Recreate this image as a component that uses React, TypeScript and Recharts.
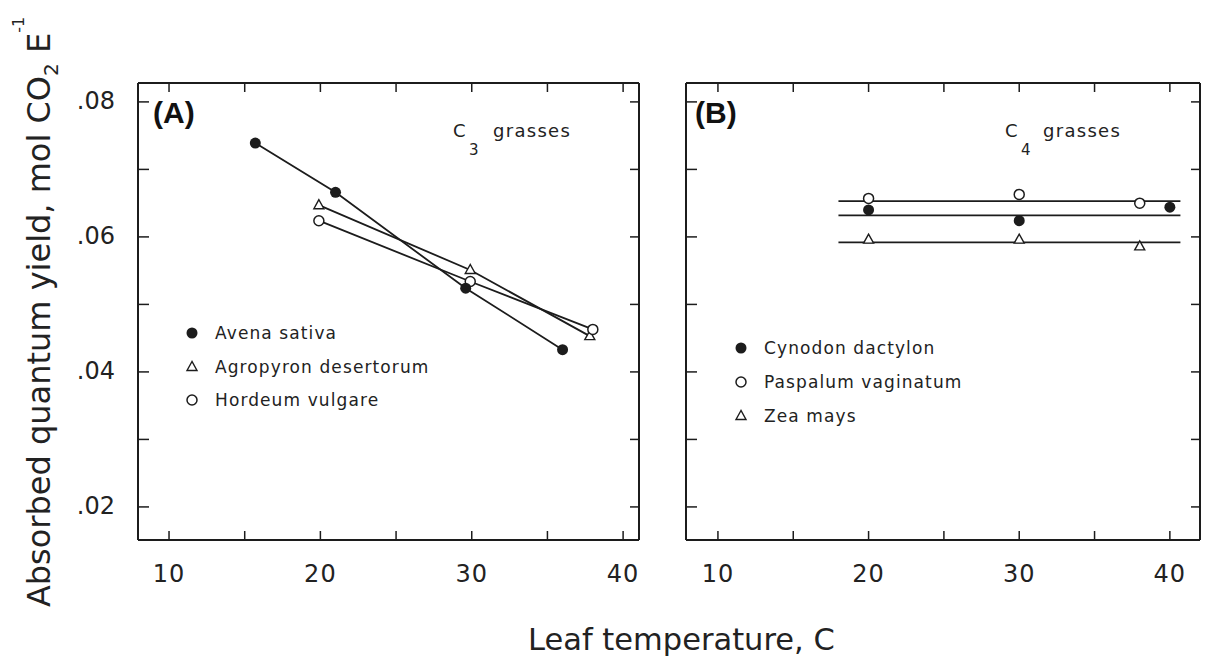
import React from 'react';
import { ComposedChart, Scatter, XAxis, YAxis, Legend } from 'recharts';

// Panel A – C3 grasses (leaf temperature, C  vs  absorbed quantum yield)
const avenaT = [15.7, 21.0, 29.6, 36.0];
const avenaY = [0.0739, 0.0666, 0.0524, 0.0433];
const agropyronT = [19.9, 29.9, 37.8];
const agropyronY = [0.0647, 0.0551, 0.0453];
const hordeumT = [19.9, 29.9, 38.0];
const hordeumY = [0.0624, 0.0534, 0.0463];

// Panel B – C4 grasses, measured points
const cynodonT = [20, 30, 40];
const cynodonY = [0.064, 0.0624, 0.0644];
const paspalumT = [20, 30, 38];
const paspalumY = [0.0657, 0.0663, 0.065];
const zeaT = [20, 30, 38];
const zeaY = [0.0596, 0.0596, 0.0586];

// Panel B – fitted (flat) lines
const fitT = [18, 40.7];
const cynodonFit = [0.0632, 0.0632];
const paspalumFit = [0.0653, 0.0653];
const zeaFit = [0.0592, 0.0592];

const xTicks = [10, 15, 20, 25, 30, 35, 40];
const yTicks = [0.02, 0.03, 0.04, 0.05, 0.06, 0.07, 0.08];

const legendA = [
  { name: 'Avena sativa', kind: 'filled' },
  { name: 'Agropyron desertorum', kind: 'triangle' },
  { name: 'Hordeum vulgare', kind: 'open' },
];
const legendB = [
  { name: 'Cynodon dactylon', kind: 'filled' },
  { name: 'Paspalum vaginatum', kind: 'open' },
  { name: 'Zea mays', kind: 'triangle' },
];

const ink = '#1c1c1c';
const sans = "'DejaVu Sans', sans-serif";

const toPoints = (xs: number[], ys: number[]) => xs.map((x, i) => ({ x, y: ys[i] }));

const Marker = ({ kind, cx, cy }: { kind: string; cx: number; cy: number }) => {
  if (kind === 'filled') return <circle cx={cx} cy={cy} r={5.5} fill={ink} />;
  if (kind === 'open')
    return <circle cx={cx} cy={cy} r={5} fill="#fff" stroke={ink} strokeWidth={1.5} />;
  return (
    <polygon
      points={`${cx},${cy - 5.5} ${cx - 5},${cy + 3.5} ${cx + 5},${cy + 3.5}`}
      fill="#fff"
      stroke={ink}
      strokeWidth={1.4}
    />
  );
};

const shapeOf = (kind: string) => (p: any) => <Marker kind={kind} cx={p.cx} cy={p.cy} />;
const noShape = () => <g />;

const BottomTick = ({ x, y, payload }: any) => (
  <g>
    <line x1={x} y1={y} x2={x} y2={y - 9} stroke={ink} strokeWidth={1.5} />
    {payload.value % 10 === 0 && (
      <text x={x} y={y + 42} textAnchor="middle" fontFamily={sans} fontSize={24} letterSpacing={1} fill="#222">
        {payload.value}
      </text>
    )}
  </g>
);
const TopTick = ({ x, y }: any) => <line x1={x} y1={y} x2={x} y2={y + 9} stroke={ink} strokeWidth={1.5} />;
const RightTick = ({ x, y }: any) => <line x1={x} y1={y} x2={x - 9} y2={y} stroke={ink} strokeWidth={1.5} />;
const makeLeftTick = (labels: boolean) => ({ x, y, payload }: any) => {
  const v = payload.value as number;
  const even = Math.round(v * 100) % 2 === 0;
  return (
    <g>
      <line x1={x} y1={y} x2={x + 11} y2={y} stroke={ink} strokeWidth={1.5} />
      {labels && even && (
        <text x={x - 23} y={y + 7} textAnchor="end" fontFamily={sans} fontSize={24} fill="#222">
          {v.toFixed(2).replace(/^0/, '')}
        </text>
      )}
    </g>
  );
};

const LegendBox = ({ items, rowH }: { items: { name: string; kind: string }[]; rowH: number }) => (
  <div>
    {items.map((it) => (
      <div key={it.name} style={{ display: 'flex', alignItems: 'center', height: rowH }}>
        <svg width={18} height={18}>
          <Marker kind={it.kind} cx={9} cy={9} />
        </svg>
        <span style={{ marginLeft: 14, fontFamily: sans, fontSize: 17, letterSpacing: 1.1, color: '#222' }}>
          {it.name}
        </span>
      </div>
    ))}
  </div>
);

const axisLine = { stroke: ink, strokeWidth: 2 };

// axes need a size of at least 1px or recharts skips drawing them
const frameAxes = (xDomain: number[], yDomain: number[], yLabels: boolean) => [
  <XAxis key="b" xAxisId="b" type="number" dataKey="x" domain={xDomain} ticks={xTicks} allowDataOverflow
    height={1} tickSize={0} tickMargin={0} interval={0} axisLine={axisLine} tickLine={false} tick={BottomTick} />,
  <XAxis key="t" xAxisId="t" orientation="top" type="number" dataKey="x" domain={xDomain} ticks={xTicks} allowDataOverflow
    height={1} tickSize={0} tickMargin={0} interval={0} axisLine={axisLine} tickLine={false} tick={TopTick} />,
  <YAxis key="l" yAxisId="l" type="number" dataKey="y" domain={yDomain} ticks={yTicks} allowDataOverflow
    width={1} tickSize={0} tickMargin={0} interval={0} axisLine={axisLine} tickLine={false} tick={makeLeftTick(yLabels)} />,
  <YAxis key="r" yAxisId="r" orientation="right" type="number" dataKey="y" domain={yDomain} ticks={yTicks} allowDataOverflow
    width={1} tickSize={0} tickMargin={0} interval={0} axisLine={axisLine} tickLine={false} tick={RightTick} />,
];

const lineSeries = (key: string, data: { x: number; y: number }[]) => (
  <Scatter key={key} xAxisId="b" yAxisId="l" data={data} shape={noShape}
    line={{ stroke: ink, strokeWidth: 1.8 }} isAnimationActive={false} />
);
const pointSeries = (key: string, data: { x: number; y: number }[], kind: string) => (
  <Scatter key={key} xAxisId="b" yAxisId="l" data={data} shape={shapeOf(kind)} isAnimationActive={false} />
);

const yDomain = [0.0151, 0.0828];

export default function App() {
  return (
    <div style={{ position: 'absolute', left: 0, top: 0, width: 1224, height: 661, background: '#fff', overflow: 'hidden' }}>
      <div style={{ position: 'absolute', left: 0, top: 0 }}>
        <ComposedChart width={660} height={661} margin={{ top: 82, left: 137, right: 20, bottom: 120 }}>
          {frameAxes([7.95, 41.05], yDomain, true)}
          {lineSeries('avL', toPoints(avenaT, avenaY))}
          {lineSeries('agL', toPoints(agropyronT, agropyronY))}
          {lineSeries('hoL', toPoints(hordeumT, hordeumY))}
          {pointSeries('agP', toPoints(agropyronT, agropyronY), 'triangle')}
          {pointSeries('hoP', toPoints(hordeumT, hordeumY), 'open')}
          {pointSeries('avP', toPoints(avenaT, avenaY), 'filled')}
          <Legend
            layout="vertical"
            align="center"
            verticalAlign="middle"
            content={() => <LegendBox items={legendA} rowH={33.4} />}
            wrapperStyle={{ left: 183, top: 316.6, width: 'auto', height: 'auto' }}
          />
        </ComposedChart>
      </div>
      <div style={{ position: 'absolute', left: 660, top: 0 }}>
        <ComposedChart width={564} height={661} margin={{ top: 82, left: 25, right: 23, bottom: 120 }}>
          {frameAxes([7.88, 42.0], yDomain, false)}
          {lineSeries('paL', toPoints(fitT, paspalumFit))}
          {lineSeries('cyL', toPoints(fitT, cynodonFit))}
          {lineSeries('zeL', toPoints(fitT, zeaFit))}
          {pointSeries('zeP', toPoints(zeaT, zeaY), 'triangle')}
          {pointSeries('paP', toPoints(paspalumT, paspalumY), 'open')}
          {pointSeries('cyP', toPoints(cynodonT, cynodonY), 'filled')}
          <Legend
            layout="vertical"
            align="center"
            verticalAlign="middle"
            content={() => <LegendBox items={legendB} rowH={34.2} />}
            wrapperStyle={{ left: 72, top: 330.6, width: 'auto', height: 'auto' }}
          />
        </ComposedChart>
      </div>
      <svg width={1224} height={661} style={{ position: 'absolute', left: 0, top: 0, pointerEvents: 'none' }}>
        <text x={153} y={123} fontFamily="'Liberation Sans', sans-serif" fontWeight="bold" fontSize={30} fill="#111">(A)</text>
        <text x={695} y={123} fontFamily="'Liberation Sans', sans-serif" fontWeight="bold" fontSize={30} fill="#111">(B)</text>
        <text fontFamily={sans} fontSize={18} letterSpacing={1.3} fill="#222">
          <tspan x={453} y={137}>C</tspan>
          <tspan x={469} y={155} fontSize={15}>3</tspan>
          <tspan x={493} y={137}>grasses</tspan>
        </text>
        <text fontFamily={sans} fontSize={18} letterSpacing={1.3} fill="#222">
          <tspan x={1005} y={137}>C</tspan>
          <tspan x={1021} y={155} fontSize={15}>4</tspan>
          <tspan x={1043} y={137}>grasses</tspan>
        </text>
        <text x={528} y={650} fontFamily={sans} fontSize={30.5} fill="#222">Leaf temperature, C</text>
        <text transform="rotate(-90)" x={-312} y={50} textAnchor="middle" fontFamily={sans} fontSize={32} fill="#222">
          Absorbed quantum yield, mol CO
          <tspan dy={8} fontSize={20}>2</tspan>
          <tspan dy={-8}> E</tspan>
          <tspan dy={-26} fontSize={16}>-1</tspan>
        </text>
      </svg>
    </div>
  );
}
